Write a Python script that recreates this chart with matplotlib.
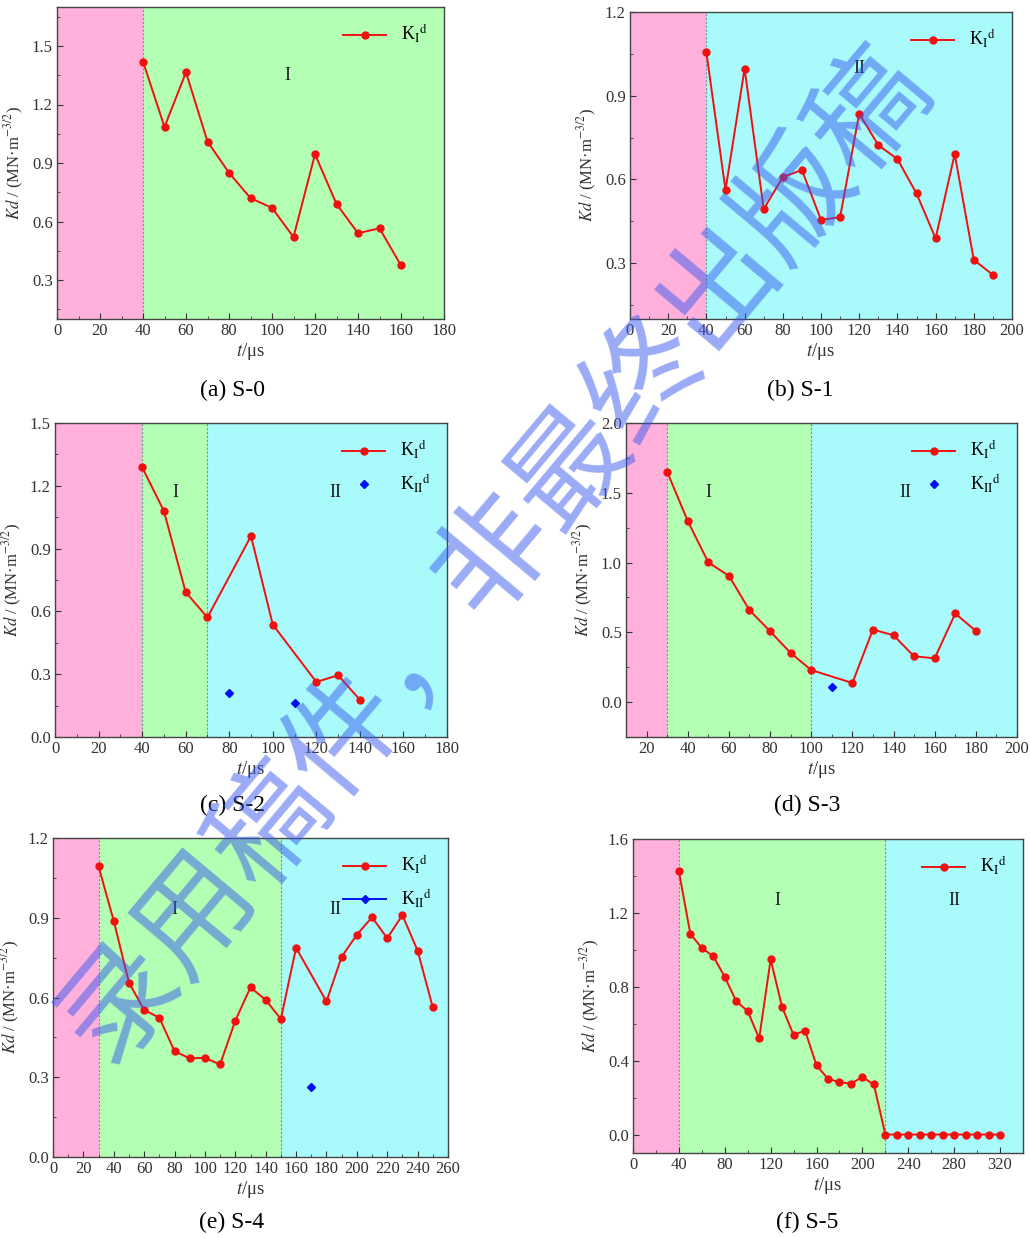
import matplotlib
matplotlib.use("Agg")
import matplotlib.pyplot as plt
from matplotlib.ticker import MultipleLocator, FormatStrFormatter

plt.rcParams['font.family'] = ['Liberation Serif', 'DejaVu Serif']
plt.rcParams['mathtext.fontset'] = 'stix'

# ---- data ----
s0_t = [40, 50, 60, 70, 80, 90, 100, 110, 120, 130, 140, 150, 160]
s0_k1 = [1.42, 1.085, 1.365, 1.01, 0.85, 0.72, 0.67, 0.52, 0.945, 0.69, 0.54, 0.565, 0.375]

s1_t = [40, 50, 60, 70, 80, 90, 100, 110, 120, 130, 140, 150, 160, 170, 180, 190]
s1_k1 = [1.055, 0.562, 0.997, 0.494, 0.608, 0.634, 0.455, 0.465, 0.836, 0.723,
         0.673, 0.55, 0.389, 0.691, 0.312, 0.258]

s2_t = [40, 50, 60, 70, 90, 100, 120, 130, 140]
s2_k1 = [1.289, 1.08, 0.692, 0.571, 0.96, 0.537, 0.263, 0.295, 0.178]
s2_t2 = [80, 110]
s2_k2 = [0.21, 0.163]

s3_t = [30, 40, 50, 60, 70, 80, 90, 100, 120, 130, 140, 150, 160, 170, 180]
s3_k1 = [1.65, 1.298, 1.001, 0.905, 0.659, 0.508, 0.352, 0.23, 0.137, 0.52,
         0.479, 0.328, 0.314, 0.635, 0.51]
s3_t2 = [110]
s3_k2 = [0.108]

s4_t = [30, 40, 50, 60, 70, 80, 90, 100, 110, 120, 130, 140, 150, 160,
        180, 190, 200, 210, 220, 230, 240, 250]
s4_k1 = [1.093, 0.888, 0.656, 0.553, 0.524, 0.398, 0.371, 0.373, 0.348, 0.513,
         0.638, 0.591, 0.519, 0.787, 0.585, 0.753, 0.836, 0.902, 0.823, 0.91,
         0.776, 0.563]
s4_t2 = [170]
s4_k2 = [0.264]

s5_t = [40, 50, 60, 70, 80, 90, 100, 110, 120, 130, 140, 150, 160, 170, 180,
        190, 200, 210, 220, 230, 240, 250, 260, 270, 280, 290, 300, 310, 320]
s5_k1 = [1.425, 1.086, 1.01, 0.965, 0.853, 0.722, 0.668, 0.52, 0.948, 0.69,
         0.539, 0.563, 0.374, 0.302, 0.283, 0.276, 0.311, 0.271,
         0.0, 0.0, 0.0, 0.0, 0.0, 0.0, 0.0, 0.0, 0.0, 0.0, 0.0]

PINK = '#FFB1DC'
GREEN = '#B3FFB3'
CYAN = '#A9FAFB'

W, H = 1030, 1238
fig = plt.figure(figsize=(W / 100, H / 100), dpi=100)


def add_ax(x0, y0, x1, y1):
    # pixel box -> figure fraction
    return fig.add_axes([x0 / W, 1 - y1 / H, (x1 - x0) / W, (y1 - y0) / H])


panels = [
    dict(box=(57, 7, 444, 319), xlim=(0, 180), ylim=(0.1, 1.7), xmaj=20, xmin=10,
         ymaj=0.3, ymin=0.15,
         regions=[(0, 40, PINK), (40, 180, GREEN)],
         labels=[(107, 1.35, 'I')],
         k1=(s0_t, s0_k1), k2=None, caption='(a) S-0', cap=(232, 390)),
    dict(box=(630, 12, 1012, 319), xlim=(0, 200), ylim=(0.1, 1.2), xmaj=20, xmin=10,
         ymaj=0.3, ymin=0.15,
         regions=[(0, 40, PINK), (40, 200, CYAN)],
         labels=[(120, 0.997, 'II')],
         k1=(s1_t, s1_k1), k2=None, caption='(b) S-1', cap=(800, 390)),
    dict(box=(55, 423, 447, 737), xlim=(0, 180), ylim=(0.0, 1.5), xmaj=20, xmin=10,
         ymaj=0.3, ymin=0.15,
         regions=[(0, 40, PINK), (40, 70, GREEN), (70, 180, CYAN)],
         labels=[(55.5, 1.168, 'I'), (128.7, 1.168, 'II')],
         k1=(s2_t, s2_k1), k2=(s2_t2, s2_k2), k2line=False,
         caption='(c) S-2', cap=(232, 805)),
    dict(box=(626, 423, 1017, 737), xlim=(10, 200), ylim=(-0.25, 2.0), xmaj=20, xmin=10,
         ymaj=0.5, ymin=0.25,
         regions=[(10, 30, PINK), (30, 100, GREEN), (100, 200, CYAN)],
         labels=[(50, 1.50, 'I'), (146, 1.50, 'II')],
         k1=(s3_t, s3_k1), k2=(s3_t2, s3_k2), k2line=False,
         caption='(d) S-3', cap=(807, 805)),
    dict(box=(53, 838, 448, 1157), xlim=(0, 260), ylim=(0.0, 1.2), xmaj=20, xmin=10,
         ymaj=0.3, ymin=0.15,
         regions=[(0, 30, PINK), (30, 150, GREEN), (150, 260, CYAN)],
         labels=[(80, 0.93, 'I'), (186, 0.93, 'II')],
         k1=(s4_t, s4_k1), k2=(s4_t2, s4_k2), k2line=True,
         caption='(e) S-4', cap=(232, 1222)),
    dict(box=(633, 839, 1023, 1153), xlim=(0, 340), ylim=(-0.1, 1.6), xmaj=40, xmin=20,
         ymaj=0.4, ymin=0.2,
         regions=[(0, 40, PINK), (40, 220, GREEN), (220, 340, CYAN)],
         labels=[(126, 1.266, 'I'), (280, 1.266, 'II')],
         k1=(s5_t, s5_k1), k2=None, caption='(f) S-5', cap=(807, 1222)),
]

for p in panels:
    ax = add_ax(*p['box'])
    for x0, x1, c in p['regions']:
        ax.axvspan(x0, x1, color=c, lw=0, zorder=0)
    for x0, x1, c in p['regions'][1:]:
        ax.axvline(x0, color='#8a8a8a', lw=0.8, ls=(0, (2, 1.5)), zorder=1)
    t, k = p['k1']
    ax.plot(t, k, color='#F01010', lw=1.4, marker='o', ms=5,
            label=r'K$_\mathrm{I}$$^\mathrm{d}$', zorder=3)
    if p['k2'] is not None:
        t2, k2 = p['k2']
        ax.plot(t2, k2, color='#0010F0', lw=1.4 if p['k2line'] else 0,
                marker='D', ms=4, label=r'K$_\mathrm{II}$$^\mathrm{d}$', zorder=3)
    for x, y, s in p['labels']:
        ax.text(x, y, s, ha='center', va='center', fontsize=13, color='#222222')

    ax.set_xlim(*p['xlim'])
    ax.set_ylim(*p['ylim'])
    ax.xaxis.set_major_locator(MultipleLocator(p['xmaj']))
    ax.xaxis.set_minor_locator(MultipleLocator(p['xmin']))
    ax.yaxis.set_major_locator(MultipleLocator(p['ymaj']))
    ax.yaxis.set_minor_locator(MultipleLocator(p['ymin']))
    ax.yaxis.set_major_formatter(FormatStrFormatter('%.1f'))
    ax.tick_params(which='both', direction='in', top=False, right=False,
                   labelsize=12, colors='#333333', labelcolor='#333333', pad=3)
    ax.tick_params(which='major', length=4)
    ax.tick_params(which='minor', length=2.5)
    for sp in ax.spines.values():
        sp.set_color('#444444')
        sp.set_linewidth(1.0)

    ax.set_xlabel(r'$t$/μs', fontsize=13.5, labelpad=1, color='#333333')
    ax.set_ylabel(r'$Kd$ / (MN·m$^{\mathrm{-3/2}}$)', fontsize=12, labelpad=4,
                  color='#333333')
    ax.legend(loc='upper right', frameon=False, fontsize=13, handlelength=2.4,
              borderaxespad=0.5, labelspacing=0.6)

    fig.text(p['cap'][0] / W, 1 - p['cap'][1] / H, p['caption'], ha='center',
             va='center', fontsize=17)

# watermark across the page
fig.text(495 / W, 1 - 555 / H, '录用稿件，非最终出版稿', rotation=50,
         rotation_mode='anchor', ha='center', va='center', fontsize=84,
         family=['Noto Sans CJK SC', 'DejaVu Sans'], color='#3858EE', alpha=0.5,
         zorder=10)

fig.savefig('out.png', dpi=100)
